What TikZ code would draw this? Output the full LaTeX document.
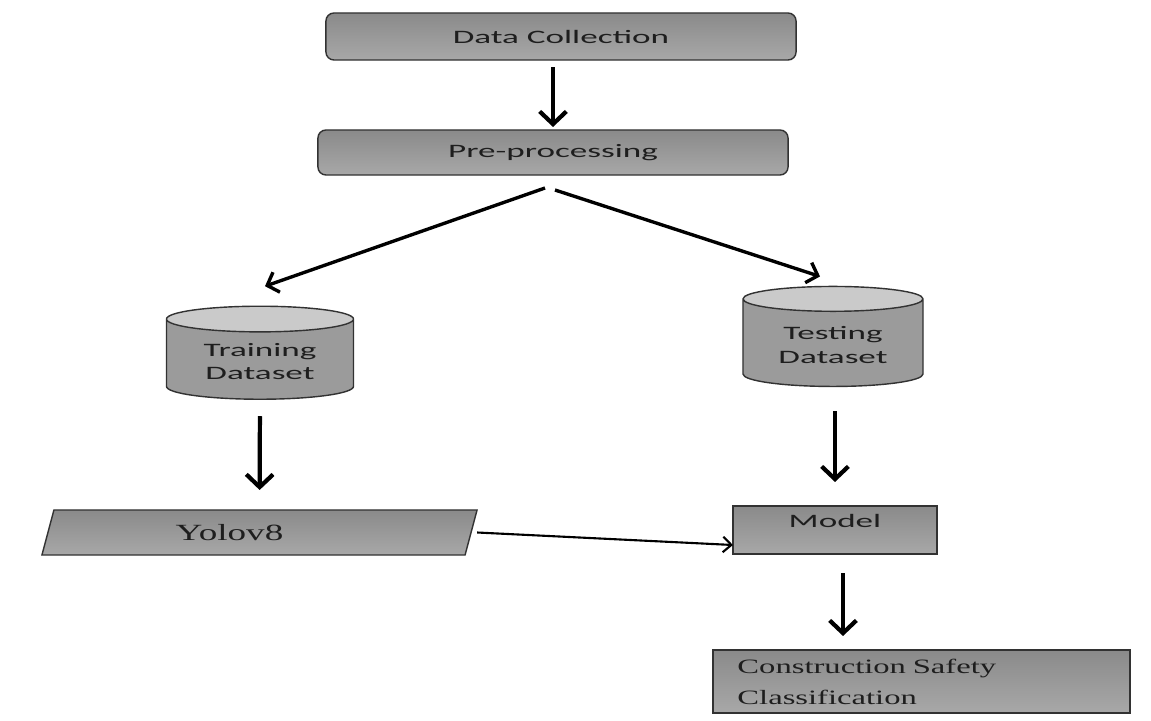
\documentclass[tikz,border=0pt]{standalone}
\usepackage{fontspec}
\newfontfamily\calibw[FakeStretch=1.85]{Carlito}
\newfontfamily\timesw[FakeStretch=1.6]{Liberation Serif}
\usetikzlibrary{shapes.geometric, arrows.meta, positioning}
\definecolor{boxtop}{RGB}{138,138,138}
\definecolor{boxbot}{RGB}{168,168,168}
\definecolor{cylbody}{RGB}{155,155,155}
\definecolor{cylend}{RGB}{202,202,202}
\definecolor{edgegray}{RGB}{50,50,50}
\definecolor{inkgray}{RGB}{30,30,30}
\tikzset{every node/.append style={align=center, outer sep=0pt, text=inkgray}}
\tikzset{
  proc/.style={rectangle, draw=edgegray, line width=1pt, rounded corners=0.2cm,
    top color=boxtop, bottom color=boxbot, minimum width=11.75cm, minimum height=1.175cm,
    font=\calibw\fontsize{13.5}{15}\selectfont},
  dbase/.style={cylinder, shape border rotate=90, aspect=0.21, draw=edgegray, line width=1pt,
    cylinder uses custom fill, cylinder body fill=cylbody, cylinder end fill=cylend,
    font=\calibw\fontsize{13.5}{17}\selectfont},
  algo/.style={trapezium, trapezium left angle=65, trapezium right angle=115,
    trapezium stretches body, draw=edgegray, line width=1pt, top color=boxtop, bottom color=boxbot,
    minimum width=10.875cm, minimum height=1.125cm, font=\timesw\fontsize{16.5}{18}\selectfont},
  block/.style={rectangle, draw=edgegray, line width=1pt, top color=boxtop, bottom color=boxbot,
    minimum width=5.1cm, minimum height=1.2cm, text height=0.3cm, text depth=0.45cm,
    font=\calibw\fontsize{13.5}{15}\selectfont},
  result/.style={rectangle, draw=edgegray, line width=1pt, top color=boxtop, bottom color=boxbot,
    minimum width=10.425cm, minimum height=1.575cm, text width=9.2cm, align=left,
    font=\timesw\fontsize{14.5}{22}\selectfont},
  bigarrow/.style={-{Straight Barb[length=9pt,width=19pt]}, line width=3pt, black},
  midarrow/.style={-{Straight Barb[length=7pt,width=15pt]}, line width=2.4pt, black},
  thinarrow/.style={-{Straight Barb[length=6pt,width=11pt]}, line width=1.5pt, black}
}
\begin{document}
\begin{tikzpicture}[x=0.025cm, y=-0.025cm]
  \path[use as bounding box, fill=white] (0,0) rectangle (1151,721);
  \node[proc] (collect) at (561,36.5) {Data Collection};
  \node[proc, minimum height=1.125cm] (prep) at (553,152.5) {Pre-processing};
  \node[dbase, minimum width=4.675cm, minimum height=2.325cm] (train) at (260,361.5) {Training\\Dataset};
  \node[dbase, minimum width=4.5cm, minimum height=2.5cm] (test) at (833,345) {Testing\\Dataset};
  \node[algo] (yolo) at (259.5,532.5) {Yolov8\hspace*{1.5cm}};
  \node[block] (model) at (835,530) {Model};
  \node[result] (classif) at (921.5,681.5) {Construction Safety\\Classification};
  \draw[bigarrow, shorten <=0.175cm, shorten >=0.075cm] (prep.north |- collect.south) -- (prep.north);
  \draw[midarrow] ([shift={(-8,13)}]prep.south) -- ([shift={(5,-20)}]train.north);
  \draw[midarrow] ([shift={(2,15)}]prep.south) -- ([shift={(-13,-10)}]test.north);
  \draw[bigarrow, shorten <=0.425cm, shorten >=0.5cm] (train.south) -- (yolo.north);
  \draw[bigarrow, shorten <=0.625cm, shorten >=0.6cm] (model.north |- test.south) -- (model.north);
  \draw[bigarrow, shorten <=0.475cm, shorten >=0.35cm] ([xshift=0.2cm]model.south) -- ([xshift=0.2cm]model.south |- classif.north);
  \draw[thinarrow] ([xshift=0.15cm]yolo.east) -- ([yshift=-0.375cm]model.west);
\end{tikzpicture}
\end{document}
